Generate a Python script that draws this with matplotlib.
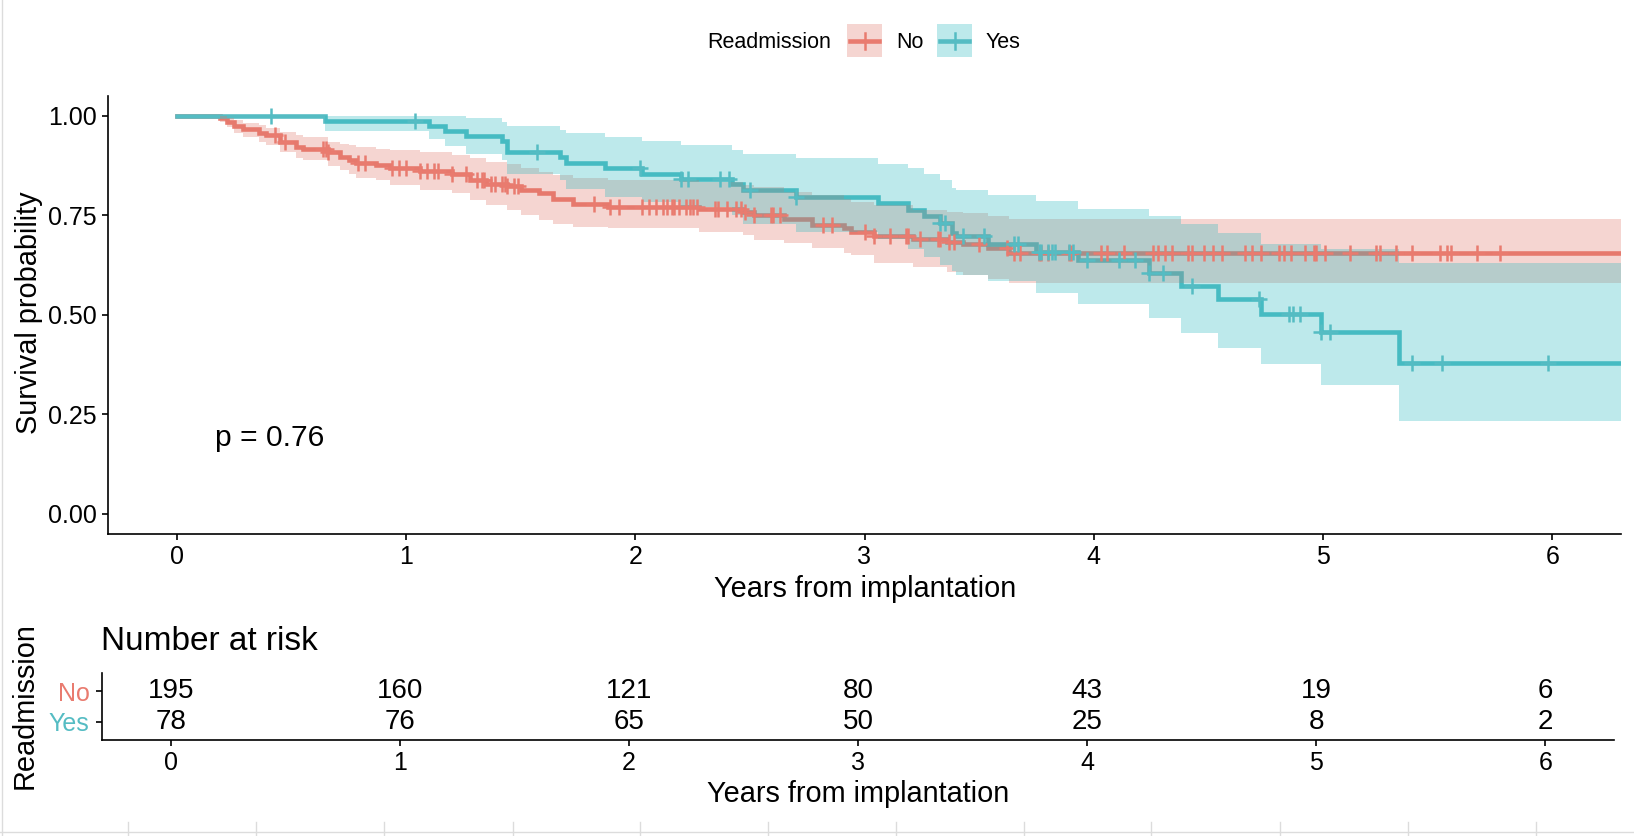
import numpy as np
import matplotlib
matplotlib.use('Agg')
import matplotlib.pyplot as plt
from matplotlib.patches import Rectangle
from matplotlib.lines import Line2D

plt.rcParams['font.family'] = ['Liberation Sans', 'DejaVu Sans']

# ---------------- data ----------------
groups = ['No', 'Yes']

no_time = [0, 0.19, 0.22, 0.25, 0.29, 0.36, 0.39, 0.45, 0.52, 0.55, 0.66, 0.71, 0.75, 0.78, 0.87,
           0.93, 1.06, 1.20, 1.28, 1.35, 1.44, 1.50, 1.58, 1.64, 1.73, 1.88, 2.28, 2.47, 2.52, 2.65,
           2.77, 2.91, 2.94, 3.04, 3.21, 3.36, 3.43, 3.54, 3.63]
no_surv = [1.0, 0.995, 0.985, 0.975, 0.966, 0.956, 0.951, 0.935, 0.922, 0.918, 0.910, 0.897, 0.890,
           0.882, 0.876, 0.868, 0.861, 0.853, 0.840, 0.830, 0.823, 0.813, 0.805, 0.792, 0.778, 0.771,
           0.766, 0.759, 0.750, 0.742, 0.725, 0.717, 0.709, 0.698, 0.690, 0.684, 0.678, 0.667, 0.656]
no_lower = [1.0, 0.985, 0.972, 0.958, 0.947, 0.935, 0.926, 0.91, 0.895, 0.889, 0.875, 0.864, 0.855,
            0.845, 0.838, 0.826, 0.813, 0.805, 0.788, 0.775, 0.763, 0.75, 0.738, 0.728, 0.721, 0.717,
            0.709, 0.700, 0.688, 0.680, 0.667, 0.655, 0.650, 0.629, 0.620, 0.608, 0.600, 0.591, 0.579]
no_upper = [1.0, 1.0, 0.995, 0.989, 0.983, 0.977, 0.97, 0.96, 0.953, 0.947, 0.935, 0.93, 0.926,
            0.922, 0.918, 0.914, 0.91, 0.901, 0.893, 0.885, 0.88, 0.87, 0.86, 0.851, 0.845, 0.838,
            0.834, 0.826, 0.82, 0.809, 0.80, 0.79, 0.784, 0.775, 0.763, 0.759, 0.757, 0.749, 0.74]
no_censor = [0.43, 0.47, 0.64, 0.65, 0.66, 0.79, 0.82, 0.94, 0.97, 1.00, 1.06, 1.09, 1.12, 1.14, 1.20,
             1.26, 1.31, 1.33, 1.34, 1.37, 1.39, 1.42, 1.43, 1.44, 1.47, 1.49, 1.82, 1.89, 1.93, 2.03,
             2.06, 2.09, 2.12, 2.14, 2.16, 2.17, 2.19, 2.22, 2.24, 2.25, 2.27, 2.35, 2.36, 2.40, 2.44,
             2.46, 2.48, 2.52, 2.59, 2.60, 2.63, 2.82, 2.86, 3.00, 3.04, 3.11, 3.18, 3.19, 3.24, 3.32,
             3.33, 3.37, 3.39, 3.50, 3.62, 3.65, 3.68, 3.76, 3.77, 3.80, 3.89, 3.90, 4.03, 4.06, 4.13,
             4.26, 4.28, 4.31, 4.34, 4.41, 4.43, 4.48, 4.52, 4.56, 4.66, 4.69, 4.73, 4.81, 4.83, 4.86,
             4.92, 4.96, 4.97, 5.01, 5.12, 5.23, 5.25, 5.32, 5.39, 5.51, 5.54, 5.56, 5.67, 5.77]

yes_time = [0, 0.646, 1.10, 1.17, 1.26, 1.42, 1.44, 1.67, 1.70, 1.87, 2.03, 2.20, 2.42, 2.47, 2.70,
            3.06, 3.19, 3.26, 3.33, 3.38, 3.40, 3.54, 3.75, 3.93, 4.24, 4.38, 4.54, 4.73, 4.99, 5.33]
yes_surv = [1.0, 0.987, 0.974, 0.962, 0.949, 0.936, 0.910, 0.897, 0.882, 0.868, 0.855, 0.841, 0.828,
            0.813, 0.796, 0.782, 0.763, 0.749, 0.730, 0.705, 0.698, 0.679, 0.658, 0.637, 0.606, 0.572,
            0.540, 0.503, 0.456, 0.379]
yes_lower = [1.0, 0.962, 0.941, 0.925, 0.905, 0.89, 0.855, 0.84, 0.815, 0.797, 0.784, 0.771, 0.75,
             0.727, 0.709, 0.69, 0.665, 0.645, 0.625, 0.61, 0.60, 0.585, 0.555, 0.527, 0.491, 0.453,
             0.416, 0.375, 0.323, 0.234]
yes_upper = [1.0, 1.0, 1.0, 1.0, 0.995, 0.985, 0.974, 0.965, 0.956, 0.947, 0.936, 0.926, 0.915,
             0.905, 0.893, 0.88, 0.868, 0.855, 0.838, 0.818, 0.813, 0.80, 0.786, 0.767, 0.748, 0.727,
             0.705, 0.679, 0.665, 0.631]
yes_censor = [0.41, 1.04, 1.57, 2.02, 2.20, 2.23, 2.37, 2.41, 2.50, 2.70, 3.33, 3.35, 3.43, 3.52, 3.65,
              3.67, 3.76, 3.77, 3.80, 3.82, 3.83, 3.89, 3.91, 3.97, 4.11, 4.18, 4.24, 4.30, 4.43, 4.72,
              4.85, 4.87, 4.90, 4.99, 5.03, 5.39, 5.52, 5.98]

risk_times = [0, 1, 2, 3, 4, 5, 6]
risk_no = [195, 160, 121, 80, 43, 19, 6]
risk_yes = [78, 76, 65, 50, 25, 8, 2]

x_ticks = [0, 1, 2, 3, 4, 5, 6]
y_ticks = [0.0, 0.25, 0.5, 0.75, 1.0]
y_tick_labels = ['0.00', '0.25', '0.50', '0.75', '1.00']
p_text = 'p = 0.76'
T_END = 6.3

# ---------------- style ----------------
line_cols = {'No': '#E97B6F', 'Yes': '#55BCC3'}
fill_cols = {'No': '#E17669', 'Yes': '#26B9C0'}
FILL_ALPHA = 0.3

W, H = 1634, 836
fig = plt.figure(figsize=(W / 100, H / 100), dpi=100)


def fx(px):
    return px / W


def fy(py):
    return 1 - py / H


# ---------------- main survival plot ----------------
ax = fig.add_axes([fx(108), fy(533.5), fx(1621) - fx(108), fy(96) - fy(533.5)])

series = {
    'No': (no_time, no_surv, no_lower, no_upper, no_censor),
    'Yes': (yes_time, yes_surv, yes_lower, yes_upper, yes_censor),
}

for k, g in enumerate(groups):
    t, s, lo, hi, cens = series[g]
    tt = np.append(t, T_END)
    ss = np.append(s, s[-1])
    ax.step(tt, ss, where='post', color=line_cols[g], lw=3.3, zorder=2 + 0.1 * k,
            solid_joinstyle='miter')

for k, g in enumerate(groups):
    t, s, lo, hi, cens = series[g]
    tt = np.append(t, T_END)
    lo_ = np.append(lo, lo[-1])
    hi_ = np.append(hi, hi[-1])
    ax.fill_between(tt, lo_, hi_, step='post', color=fill_cols[g], alpha=FILL_ALPHA,
                    lw=0, zorder=3 + 0.1 * k)

for k, g in enumerate(groups):
    t, s, lo, hi, cens = series[g]
    idx = np.searchsorted(np.array(t), np.array(cens), side='right') - 1
    ax.plot(cens, np.array(s)[idx], ls='none', marker='+', ms=11, mew=1.8,
            color=line_cols[g], zorder=4 + 0.1 * k)

ax.set_xlim(-0.3, 6.3)
ax.set_ylim(-0.05, 1.05)
ax.set_xticks(x_ticks)
ax.set_xticklabels([str(v) for v in x_ticks])
ax.set_yticks(y_ticks)
ax.set_yticklabels(y_tick_labels)
for sp in ['top', 'right']:
    ax.spines[sp].set_visible(False)
for sp in ['left', 'bottom']:
    ax.spines[sp].set_linewidth(1.2)
ax.tick_params(axis='both', length=4, width=1.2, labelsize=18, pad=4, colors='black')

ax.text(0.166, 0.19, p_text, ha='left', va='center', fontsize=21.6)

fig.text(fx(29), fy(313), 'Survival probability', rotation=90, ha='center', va='center',
         fontsize=20.8)
fig.text(fx(865), fy(589), 'Years from implantation', ha='center', va='center', fontsize=20.8)

# ---------------- legend ----------------
fig.text(fx(707), fy(42), 'Readmission', ha='left', va='center', fontsize=15.5)
leg_pos = {'No': (847, 896), 'Yes': (937, 986)}
for g in groups:
    kx, tx = leg_pos[g]
    fig.patches.append(Rectangle((fx(kx), fy(57)), fx(35), fy(24) - fy(57),
                                 transform=fig.transFigure, facecolor=fill_cols[g],
                                 alpha=FILL_ALPHA, edgecolor='none'))
    fig.lines.append(Line2D([fx(kx + 3), fx(kx + 32)], [fy(41), fy(41)],
                            transform=fig.transFigure, color=line_cols[g], lw=3.3))
    fig.lines.append(Line2D([fx(kx + 17.5), fx(kx + 17.5)], [fy(33), fy(49)],
                            transform=fig.transFigure, color=line_cols[g], lw=1.8))
    fig.text(fx(tx), fy(42), g, ha='left', va='center', fontsize=15.5)

# ---------------- risk table ----------------
ax2 = fig.add_axes([fx(102), fy(740), fx(1614) - fx(102), fy(673) - fy(740)])
ax2.set_xlim(-0.3, 6.3)
ax2.set_ylim(0.4, 2.6)
row_y = {'No': 2, 'Yes': 1}
risk = {'No': risk_no, 'Yes': risk_yes}
for g in groups:
    for tv, n in zip(risk_times, risk[g]):
        ax2.text(tv, row_y[g], str(n), ha='center', va='center', fontsize=20)
ax2.set_yticks([row_y[g] for g in groups])
ax2.set_yticklabels(groups)
for lab, g in zip(ax2.get_yticklabels(), groups):
    lab.set_color(line_cols[g])
ax2.set_xticks(x_ticks)
ax2.set_xticklabels([str(v) for v in x_ticks])
for sp in ['top', 'right']:
    ax2.spines[sp].set_visible(False)
for sp in ['left', 'bottom']:
    ax2.spines[sp].set_linewidth(1.2)
ax2.tick_params(axis='x', length=4, width=1.2, labelsize=18, pad=4, colors='black')
ax2.tick_params(axis='y', length=4, width=1.2, labelsize=18, pad=5)

fig.text(fx(101), fy(641), 'Number at risk', ha='left', va='center', fontsize=24)
fig.text(fx(25), fy(706), 'Readmission', rotation=90, ha='center', va='center', fontsize=20.8)
fig.text(fx(858), fy(794), 'Years from implantation', ha='center', va='center', fontsize=20.8)

# ---------------- screenshot frame lines ----------------
frame_col = '#DCDCDC'
fig.lines.append(Line2D([fx(1.5), fx(1.5)], [0, 1], transform=fig.transFigure,
                        color=frame_col, lw=1))
fig.lines.append(Line2D([0, 1], [fy(832), fy(832)], transform=fig.transFigure,
                        color=frame_col, lw=1))
for xv in [128, 256, 384, 513, 640, 768, 896, 1024, 1151, 1280, 1408, 1536]:
    fig.lines.append(Line2D([fx(xv), fx(xv)], [fy(822), 0], transform=fig.transFigure,
                            color=frame_col, lw=1))

fig.savefig('out.png', dpi=100, facecolor='white')
